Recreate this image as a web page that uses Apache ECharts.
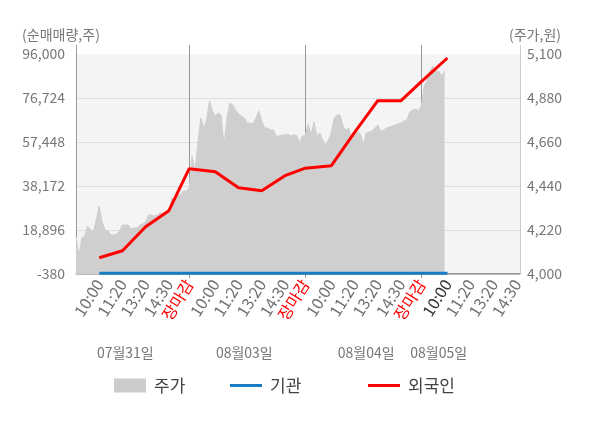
<!DOCTYPE html>
<html>
<head>
<meta charset="utf-8">
<script src="https://cdn.jsdelivr.net/npm/echarts@6/dist/echarts.min.js"></script>
<style>
html, body { margin: 0; padding: 0; background: #fff; }
#main { width: 600px; height: 428px; }
</style>
</head>
<body>
<div id="main"></div>
<script>
// 축 라벨
var dayLabels = ['07월31일', '08월03일', '08월04일', '08월05일'];
var timeLabels = ['10:00', '11:20', '13:20', '14:30', '장마감'];
var leftTicks = [-380, 18896, 38172, 57448, 76724, 96000];
var rightTicks = [4000, 4220, 4440, 4660, 4880, 5100];

// 주가 (원), 일자별
var priceDay1 = [4190, 4090, 4180, 4190, 4240, 4220, 4210, 4270, 4340, 4260,
                 4220, 4215, 4195, 4195, 4200, 4215, 4245, 4245, 4245, 4225,
                 4230, 4230, 4245, 4250, 4260, 4295, 4295, 4290, 4295, 4305,
                 4305, 4310, 4310, 4380, 4370, 4395, 4395, 4415, 4415, 4430];
var priceDay2 = [4590, 4510, 4660, 4780, 4730, 4770, 4865, 4815, 4790, 4805,
                 4795, 4640, 4780, 4855, 4845, 4820, 4800, 4790, 4780, 4755,
                 4755, 4750, 4780, 4815, 4765, 4730, 4730, 4720, 4720, 4690,
                 4690, 4695, 4695, 4700, 4690, 4695, 4695, 4655, 4690, 4690];
var priceDay3 = [4750, 4695, 4760, 4690, 4705, 4670, 4645, 4670, 4710, 4780,
                 4795, 4795, 4740, 4720, 4730, 4670, 4695, 4710, 4700, 4645,
                 4705, 4710, 4715, 4730, 4745, 4715, 4720, 4730, 4735, 4740,
                 4745, 4750, 4755, 4765, 4770, 4810, 4820, 4825, 4815, 4840];
var priceDay4 = [4940, 4970, 5015, 5040, 5015, 5015, 4990, 5015];

// 누적 순매매량 (주), 10:00 / 11:20 / 13:20 / 14:30 / 장마감 시점
var foreignNet = [6760, 9830, 20340, 27350, 45750,
                  44440, 37430, 36110, 42680, 45970,
                  47070, 61650, 75540, 75540, 83870,
                  94250];
var instNet = [0, 0, 0, 0, 0,
               0, 0, 0, 0, 0,
               0, 0, 0, 0, 0,
               0];

// 카테고리 축 구성 (하루 40칸)
var slotsPerDay = 40;
var timeSlots = [8, 16, 24, 32, 39];
var totalSlots = 154;
var dayLabelSlots = [17, 58, 100, 125];

var font = '"Noto Sans CJK KR", "Noto Sans", sans-serif';

var price = priceDay1.concat(priceDay2, priceDay3, priceDay4);
var categories = [];
for (var i = 0; i < totalSlots; i++) {
    categories.push(String(i));
}

var labelAt = {};
var flowIdx = [];
var closeIdx = [];
for (var d = 0; d < dayLabels.length; d++) {
    for (var k = 0; k < timeLabels.length; k++) {
        var idx = d * slotsPerDay + timeSlots[k];
        if (idx >= totalSlots) continue;
        labelAt[idx] = k;
        if (flowIdx.length < foreignNet.length) flowIdx.push(idx);
        if (k === timeLabels.length - 1) closeIdx.push(idx);
    }
}
var nowIdx = flowIdx[flowIdx.length - 1];

function pairs(values) {
    var out = [];
    for (var j = 0; j < values.length; j++) {
        out.push([flowIdx[j], values[j]]);
    }
    return out;
}

var dayAt = {};
for (var m = 0; m < dayLabelSlots.length; m++) {
    dayAt[dayLabelSlots[m]] = dayLabels[m];
}

var chart = echarts.init(document.getElementById('main'));

var legendText = {fontSize: 17, color: '#444', fontFamily: font, padding: [0, 0, 0, 3]};

var option = {
    animation: false,
    textStyle: {fontFamily: font},
    grid: {
        left: 76, right: 80, top: 54, bottom: 154,
        show: true, backgroundColor: '#f4f4f4', borderWidth: 0
    },
    legend: [
        {data: ['주가'], left: 114, top: 377, padding: 0, icon: 'rect', itemWidth: 32, itemHeight: 14, textStyle: legendText},
        {data: ['기관'], left: 230, top: 377, padding: 0, icon: 'rect', itemWidth: 32, itemHeight: 3, textStyle: legendText},
        {data: ['외국인'], left: 368, top: 377, padding: 0, icon: 'rect', itemWidth: 32, itemHeight: 3, textStyle: legendText}
    ],
    xAxis: [
        {
            type: 'category',
            data: categories,
            boundaryGap: false,
            axisLine: {lineStyle: {color: '#999'}},
            axisTick: {
                show: true, length: 5,
                interval: function (index) { return closeIdx.indexOf(index) >= 0; },
                lineStyle: {color: '#999'}
            },
            splitLine: {
                show: true,
                interval: function (index) { return closeIdx.indexOf(index) >= 0; },
                lineStyle: {color: '#999'}
            },
            axisLabel: {
                interval: function (index) { return labelAt[index] !== undefined; },
                rotate: 58,
                margin: 7,
                fontSize: 16,
                color: '#707070',
                fontFamily: font,
                formatter: function (value, index) {
                    var k = labelAt[index];
                    if (k === undefined) return '';
                    if (k === timeLabels.length - 1) return '{close|' + timeLabels[k] + '}';
                    if (index === nowIdx) return '{now|' + timeLabels[k] + '}';
                    return timeLabels[k];
                },
                rich: {
                    close: {color: '#ff0000', fontSize: 16, fontFamily: font},
                    now: {color: '#333', fontSize: 16, fontFamily: font}
                }
            }
        },
        {
            type: 'category',
            data: categories,
            boundaryGap: false,
            position: 'bottom',
            offset: 62,
            axisLine: {show: false},
            axisTick: {show: false},
            splitLine: {show: false},
            axisLabel: {
                interval: function (index) { return dayAt[index] !== undefined; },
                margin: 10,
                fontSize: 14,
                color: '#777',
                fontFamily: font,
                formatter: function (value, index) { return dayAt[index] || ''; }
            }
        }
    ],
    yAxis: [
        {
            type: 'value',
            min: leftTicks[0],
            max: leftTicks[leftTicks.length - 1],
            interval: leftTicks[1] - leftTicks[0],
            name: '(순매매량,주)',
            nameGap: 12,
            nameTextStyle: {color: '#777', fontSize: 14, fontFamily: font, padding: [0, 30, 0, 0]},
            axisLine: {show: true, lineStyle: {color: '#999'}},
            axisTick: {show: false},
            axisLabel: {color: '#777', fontSize: 14, margin: 11, fontFamily: font},
            splitLine: {
                show: true,
                lineStyle: {color: ['#bbb', '#ddd', '#ddd', '#ddd', '#ddd', 'rgba(0,0,0,0)']}
            }
        },
        {
            type: 'value',
            min: rightTicks[0],
            max: rightTicks[rightTicks.length - 1],
            interval: rightTicks[1] - rightTicks[0],
            position: 'right',
            name: '(주가,원)',
            nameGap: 12,
            nameTextStyle: {color: '#777', fontSize: 14, fontFamily: font, padding: [0, 0, 0, 30]},
            axisLine: {show: true, lineStyle: {color: '#ccc'}},
            axisTick: {show: false},
            axisLabel: {color: '#777', fontSize: 14, margin: 7, fontFamily: font},
            splitLine: {show: false}
        }
    ],
    series: [
        {
            name: '주가',
            type: 'line',
            yAxisIndex: 1,
            data: price,
            symbol: 'none',
            itemStyle: {color: '#cccccc'},
            lineStyle: {width: 1, color: '#cfcfcf'},
            areaStyle: {color: '#cfcfcf', opacity: 1},
            z: 1
        },
        {
            name: '기관',
            type: 'line',
            data: pairs(instNet),
            symbol: 'none',
            itemStyle: {color: '#1a7dc4'},
            lineStyle: {width: 3, color: '#1a7dc4'},
            z: 3
        },
        {
            name: '외국인',
            type: 'line',
            data: pairs(foreignNet),
            symbol: 'none',
            itemStyle: {color: '#ff0000'},
            lineStyle: {width: 3, color: '#ff0000'},
            z: 4
        }
    ]
};

chart.setOption(option);

// 세로선을 그리드 위로 조금 연장
var topY = chart.convertToPixel({yAxisIndex: 0}, leftTicks[leftTicks.length - 1]);
var ext = [];
var lineX = [0].concat(closeIdx);
for (var n = 0; n < lineX.length; n++) {
    var px = Math.round(chart.convertToPixel({xAxisIndex: 0}, lineX[n])) + 0.5;
    ext.push({type: 'line', shape: {x1: px, y1: topY - 9, x2: px, y2: topY}, style: {stroke: '#999', lineWidth: 1}, silent: true});
}
var rx = Math.round(chart.convertToPixel({xAxisIndex: 0}, totalSlots - 1)) + 0.5;
ext.push({type: 'line', shape: {x1: rx, y1: topY - 9, x2: rx, y2: topY}, style: {stroke: '#ccc', lineWidth: 1}, silent: true});
chart.setOption({graphic: ext});
</script>
</body>
</html>
